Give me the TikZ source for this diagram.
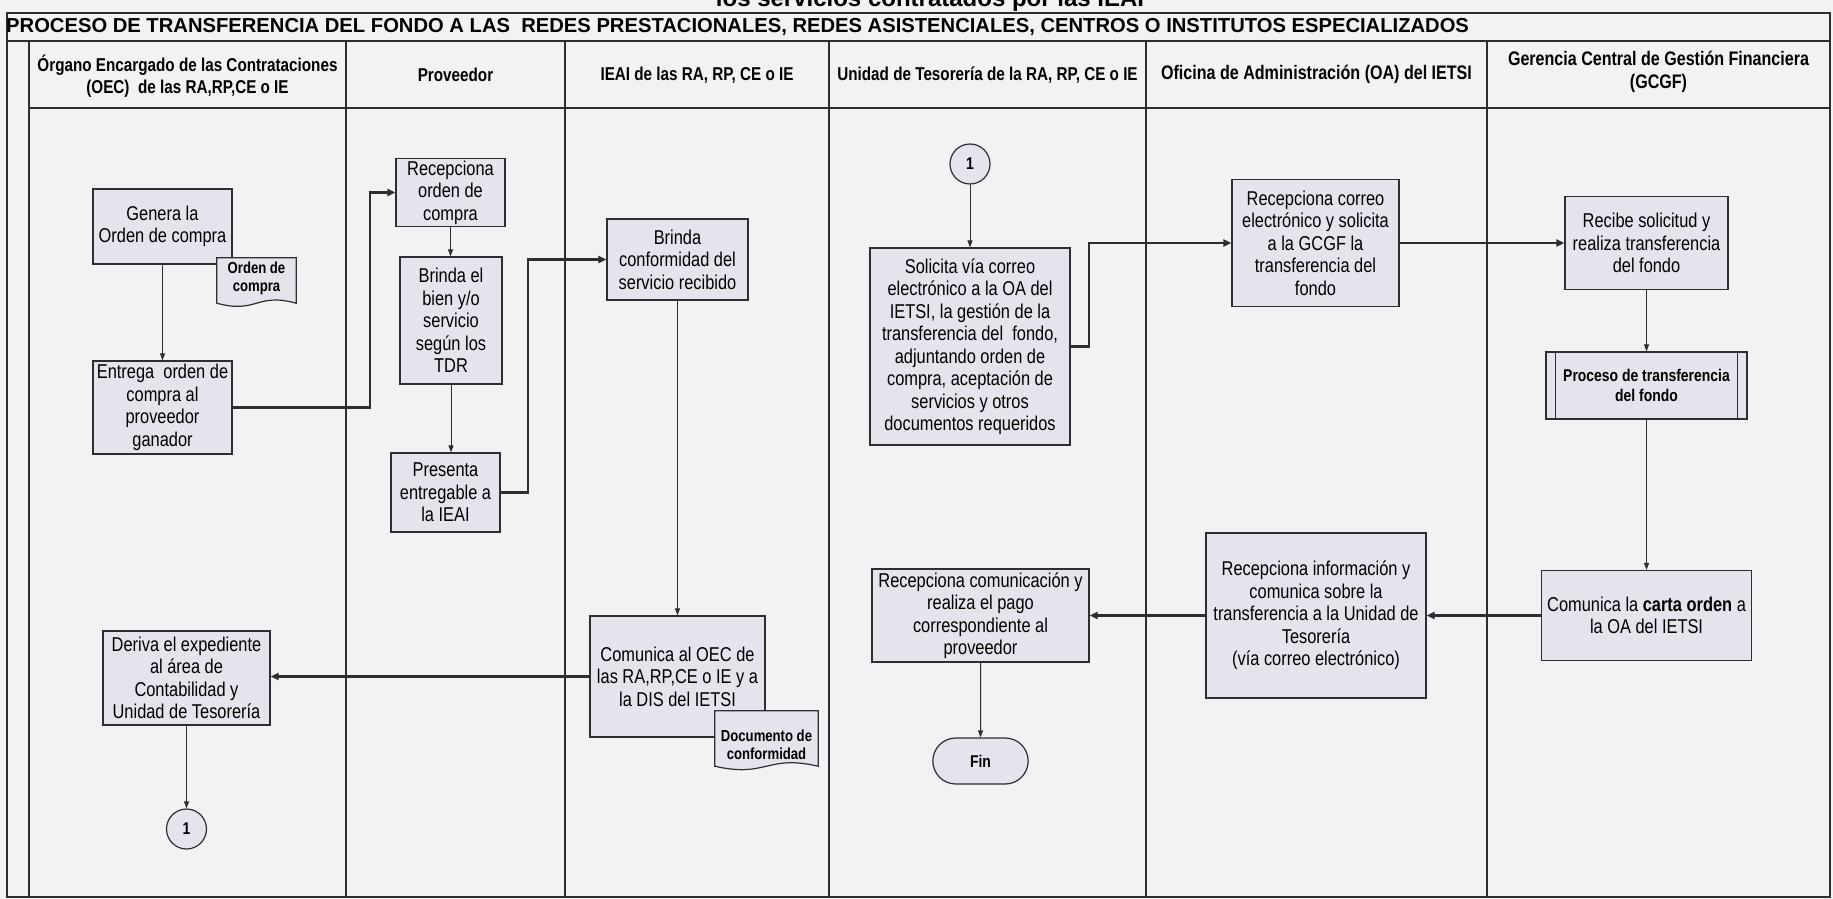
\documentclass[tikz,border=0pt]{standalone}
\usepackage{fontspec}
\setmainfont{Liberation Sans}
\newfontfamily\narrowfont[FakeStretch=0.82]{Liberation Sans}
\usetikzlibrary{arrows.meta,shapes.misc,calc}
\definecolor{paper}{RGB}{242,242,244}
\definecolor{boxfill}{RGB}{228,228,237}
\definecolor{ink}{RGB}{45,45,50}
\newcommand{\bodyfont}{\narrowfont\fontsize{20}{22.5}\selectfont}
\newcommand{\headfont}{\narrowfont\bfseries\fontsize{18.6}{22.5}\selectfont}
\newcommand{\docfont}{\narrowfont\bfseries\fontsize{16}{18}\selectfont}

\begin{document}
\begin{tikzpicture}[x=1pt,y=-1pt,
    lane/.style={draw=ink,line width=1.3pt},
    task/.style={draw=ink,fill=boxfill,line width=1.2pt,align=center,inner sep=2pt,font=\bodyfont},
    docbox/.style={draw=ink,fill=boxfill,line width=1.2pt},
    conn/.style={circle,draw=ink,fill=boxfill,line width=1.2pt,minimum size=40pt,inner sep=0pt,font=\narrowfont\bfseries\fontsize{17}{17}\selectfont},
    flow/.style={draw=ink,line width=1pt,-{Triangle[length=7pt,width=5pt]}},
    xflow/.style={draw=ink,line width=2.2pt,-{Triangle[length=8pt,width=7pt]}}]
  \useasboundingbox (0,0) rectangle (1833,899);
  \fill[paper] (0,0) rectangle (1833,899);

  \node[anchor=base,font=\bfseries\fontsize{24}{24}\selectfont] (cabecera) at (930,7) {los servicios contratados por las IEAI};
  \draw[lane] (7,13) rectangle (1830,897);
  \draw[lane] (7,41) -- (1830,41);
  \draw[lane] (29,108) -- (1830,108);
  \draw[lane] (29,41) -- (29,897);
  \foreach \x in {346,565,829,1146,1487}
    \draw[lane] (\x,41) -- (\x,897);
  \node[anchor=west,inner sep=2pt,font=\bfseries\fontsize{20.2}{20}\selectfont] (titulo) at (4,27)
    {PROCESO DE TRANSFERENCIA DEL FONDO A LAS\ \ REDES PRESTACIONALES, REDES ASISTENCIALES, CENTROS O INSTITUTOS ESPECIALIZADOS};

  \node[align=center,font=\headfont] (hOEC) at (187.5,76) {Órgano Encargado de las Contrataciones\\(OEC)\ \ de las RA,RP,CE o IE};
  \node[font=\headfont] (hProv) at (455.5,75) {Proveedor};
  \node[font=\headfont] (hIEAI) at (697,75) {IEAI de las RA, RP, CE o IE};
  \node[font=\headfont] (hTes) at (987.5,75) {Unidad de Tesorería de la RA, RP, CE o IE};
  \node[font=\headfont\fontsize{19.6}{22.5}\selectfont] (hOA) at (1316.5,74) {Oficina de Administración (OA) del IETSI};
  \node[align=center,font=\headfont\fontsize{19.6}{22.5}\selectfont] (hGCGF) at (1658.5,72) {Gerencia Central de Gestión Financiera\\(GCGF)};

  \coordinate (b1) at (370,0);
  \coordinate (b2) at (528,0);
  \coordinate (b3) at (1089,0);

  \node[task,minimum width=139pt,minimum height=75pt] (genera) at (162.5,226.5) {Genera la\\Orden de compra};
  \node[minimum width=79pt,minimum height=45pt,inner sep=0pt] (docOC) at (256.5,280.5) {};
  \draw[docbox] (docOC.north west) -- (docOC.north east) -- (docOC.south east)
    .. controls +(-40,-11) and +(40,11) .. (docOC.south west) -- cycle;
  \node[align=center,font=\docfont] (docOCt) at (256.5,278) {Orden de\\compra};
  \node[task,minimum width=139pt,minimum height=93pt] (entrega) at (162.5,407.5) {Entrega\ \ orden de\\compra al\\proveedor\\ganador};
  \node[task,minimum width=167pt,minimum height=94pt] (deriva) at (186.5,678) {Deriva el expediente\\al área de\\Contabilidad y\\Unidad de Tesorería};
  \node[conn] (conA) at (186.5,829) {1};

  \node[task,minimum width=109pt,minimum height=61pt] (recep) at (450.5,192.5) {Recepciona\\orden de\\compra};
  \node[task,minimum width=102pt,minimum height=127pt] (bien) at (451,320.5) {Brinda el\\bien y/o\\servicio\\según los\\TDR};
  \node[task,minimum width=109pt,minimum height=79pt] (presenta) at (445.5,492.5) {Presenta\\entregable a\\la IEAI};

  \node[task,minimum width=141pt,minimum height=81pt] (conf) at (677.5,259.5) {Brinda\\conformidad del\\servicio recibido};
  \node[task,minimum width=175pt,minimum height=121pt] (comOEC) at (677.5,676.5) {Comunica al OEC de\\las RA,RP,CE o IE y a\\la DIS del IETSI};
  \node[minimum width=103pt,minimum height=55pt,inner sep=0pt] (docCf) at (766.5,738.5) {};
  \draw[docbox] (docCf.north west) -- (docCf.north east) -- (docCf.south east)
    .. controls +(-52,-12) and +(52,12) .. (docCf.south west) -- cycle;
  \node[align=center,font=\docfont] (docCft) at (766.5,745) {Documento de\\conformidad};

  \node[conn] (conB) at (970,164) {1};
  \node[task,minimum width=200pt,minimum height=197pt] (solicita) at (970,346.5) {Solicita vía correo\\electrónico a la OA del\\IETSI, la gestión de la\\transferencia del\ \ fondo,\\adjuntando orden de\\compra, aceptación de\\servicios y otros\\documentos requeridos};
  \node[task,minimum width=217pt,minimum height=93pt] (pago) at (980.5,615.5) {Recepciona comunicación y\\realiza el pago\\correspondiente al\\proveedor};
  \node[rounded rectangle,draw=ink,fill=boxfill,line width=1.2pt,minimum width=102pt,minimum height=46pt,font=\narrowfont\bfseries\fontsize{17}{17}\selectfont] (fin) at (980.5,761) {Fin};

  \node[task,minimum width=167pt,minimum height=127pt] (correo) at (1315.5,243) {Recepciona correo\\electrónico y solicita\\a la GCGF la\\transferencia del\\fondo};
  \node[task,minimum width=220pt,minimum height=165pt] (info) at (1316,615.5) {Recepciona información y\\comunica sobre la\\transferencia a la Unidad de\\Tesorería\\(vía correo electrónico)};

  \node[task,minimum width=163pt,minimum height=93pt] (recibe) at (1646.5,243) {Recibe solicitud y\\realiza transferencia\\del fondo};
  \node[task,minimum width=201pt,minimum height=67pt,font=\narrowfont\bfseries\fontsize{17}{20}\selectfont] (proceso) at (1646.5,385.5) {Proceso de transferencia\\del fondo};
  \draw[line width=1.2pt,draw=ink] ([xshift=10pt]proceso.north west) -- ([xshift=10pt]proceso.south west)
    ([xshift=-10pt]proceso.north east) -- ([xshift=-10pt]proceso.south east);
  \node[task,minimum width=210pt,minimum height=90pt] (carta) at (1646.5,615.5) {Comunica la \textbf{carta orden} a\\la OA del IETSI};

  \draw[flow] (genera) -- (entrega);
  \draw[xflow] (entrega.east) -- (entrega.east -| b1) |- (recep.west);
  \draw[flow] (recep.south) -- (recep.south |- bien.north);
  \draw[flow] (bien.south) -- (bien.south |- presenta.north);
  \draw[xflow] (presenta.east) -- (presenta.east -| b2) |- (conf.west);
  \draw[flow] (conf) -- (comOEC);
  \draw[xflow] (comOEC.west) -- (comOEC.west -| deriva.east);
  \draw[flow] (deriva) -- (conA);
  \draw[flow] (conB) -- (solicita);
  \draw[xflow] (solicita.east) -- (solicita.east -| b3) |- (correo.west);
  \draw[xflow] (correo) -- (recibe);
  \draw[flow] (recibe) -- (proceso);
  \draw[flow] (proceso) -- (carta);
  \draw[xflow] (carta) -- (info);
  \draw[xflow] (info) -- (pago);
  \draw[flow] (pago) -- (fin);
\end{tikzpicture}
\end{document}
